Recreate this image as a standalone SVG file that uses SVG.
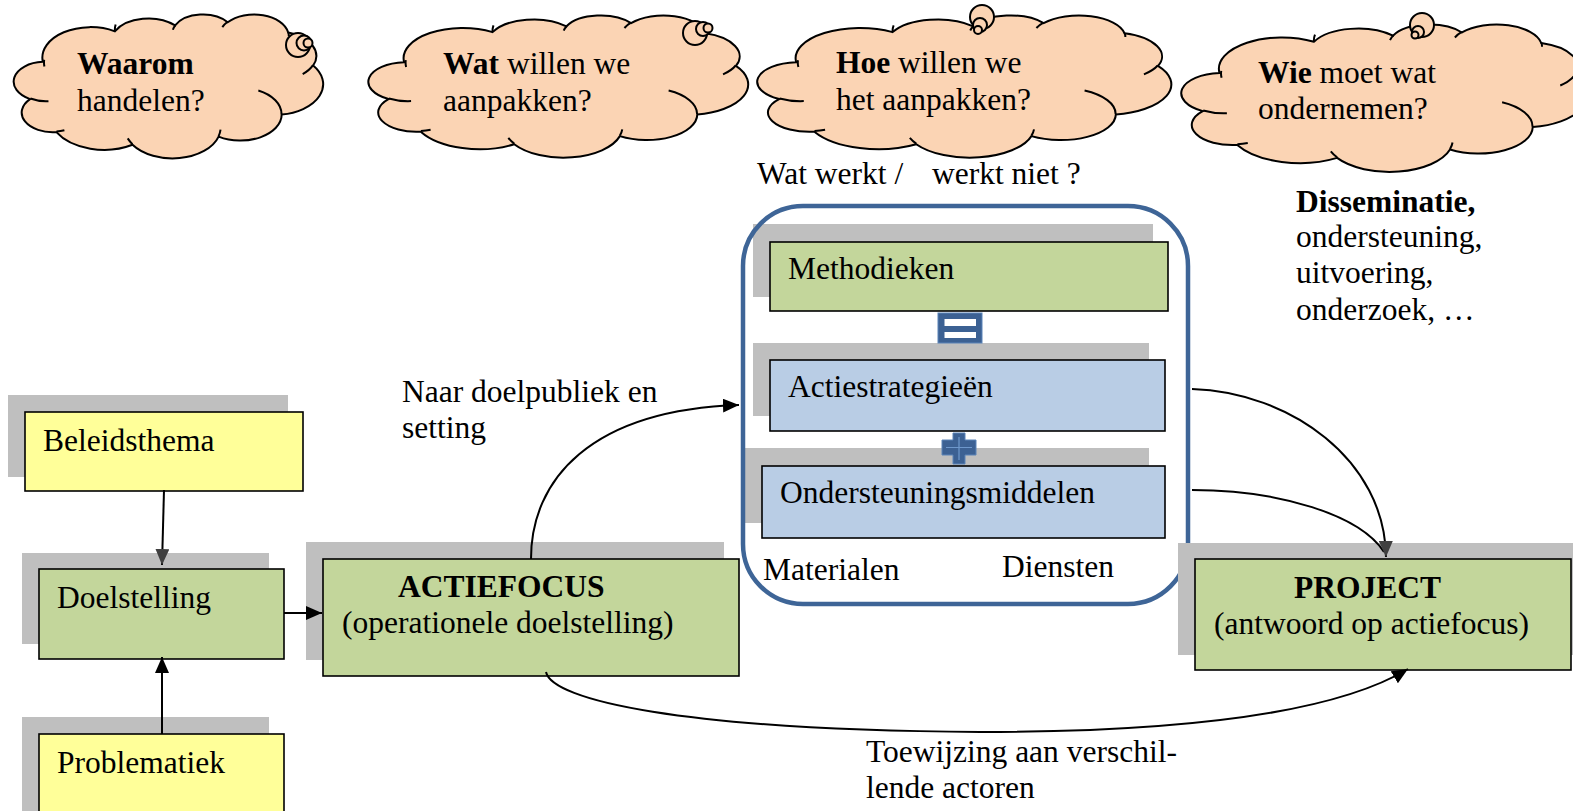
<svg xmlns="http://www.w3.org/2000/svg" xmlns:xlink="http://www.w3.org/1999/xlink" width="1573" height="811" viewBox="0 0 1573 811">
<style>
text{font-family:"Liberation Serif","Times New Roman",serif;font-size:31.5px;fill:#000}
.b{font-weight:bold}
.shadow{fill:#BFBFBF}
.yellow{fill:#FFFF99;stroke:#000;stroke-width:1.6}
.green{fill:#C3D69B;stroke:#000;stroke-width:1.6}
.blue{fill:#B9CDE5;stroke:#000;stroke-width:1.6}
.cloud{fill:#FBD4B4;stroke:#000;stroke-width:2}
.cloudline{fill:none;stroke:#000;stroke-width:2}
.conn{fill:none;stroke:#000;stroke-width:2}
.sym{fill:#3C6193;stroke:#5B84B8;stroke-width:1}
</style>
<defs>
<path id="cloudShape" vector-effect="non-scaling-stroke" d="M39,143.7 A67.53,91.9 0 0 1 140.05,52.02 A53.33,72.67 0 0 1 224.57,34.35 A43.65,59.45 0 0 1 298.34,24.84 A48.57,65.95 0 0 1 383.19,55.8 A53.33,72.73 0 0 1 418.19,154.64 A67.75,92.2 0 0 1 374.05,302.07 A57.85,78.67 0 0 1 285.57,368.18 A67.52,92.15 0 0 1 164.83,392.71 A77.2,105.43 0 0 1 58.06,354.75 A43.6,59.18 0 0 1 21.16,255.52 A43.45,59.45 0 0 1 39,143.7 Z"/>
<path id="cloudInner" vector-effect="non-scaling-stroke" d="M46.93,261.77 A43.45,59.45 0 0 1 21.6,253.8 M69.28,348.99 A43.6,59.18 0 0 1 58.19,352.81 M164.78,390.9 A67.52,92.15 0 0 1 158.09,373.49 M288.27,347.51 A67.52,92.15 0 0 1 285.6,366.6 M341.29,229.54 A57.85,78.67 0 0 1 373.81,300.9 M417.98,153.54 A53.33,72.73 0 0 1 403.48,180.33 M383.24,54.26 A48.57,65.95 0 0 1 384,66.9 M290.78,39.52 A48.57,65.95 0 0 1 298.2,23.39 M221.41,47.2 A43.65,59.45 0 0 1 225,33.3 M140,51.92 A67.53,91.9 0 0 1 141.14,31.36 M41.27,157.89 A67.53,91.9 0 0 1 40.91,137.38"/>
<marker id="arrowBlack" viewBox="0 0 16 14" refX="16" refY="7" markerWidth="16" markerHeight="14" markerUnits="userSpaceOnUse" orient="auto">
<path d="M0,0 L16,7 L0,14 Z" fill="#000"/>
</marker>
<marker id="arrowGray" viewBox="0 0 16 14" refX="16" refY="7" markerWidth="16" markerHeight="14" markerUnits="userSpaceOnUse" orient="auto">
<path d="M0,0 L16,7 L0,14 Z" fill="#404040"/>
</marker>
</defs>
<rect x="0" y="0" width="1573" height="811" fill="#FFFFFF"/>

<g id="cloud-waarom">
<use xlink:href="#cloudShape" class="cloud" transform="translate(15,14) scale(0.713,0.333)"/>
<use xlink:href="#cloudInner" class="cloudline" transform="translate(15,14) scale(0.713,0.333)"/>
<circle cx="298" cy="45" r="12" class="cloud"/>
<circle cx="304" cy="43" r="7.5" class="cloud"/>
<circle cx="308" cy="43" r="4.5" class="cloud"/>
<text x="77" y="74"><tspan class="b">Waarom</tspan></text>
<text x="77" y="111">handelen?</text>
</g>

<g id="cloud-wat">
<use xlink:href="#cloudShape" class="cloud" transform="translate(370,15) scale(0.875,0.329)"/>
<use xlink:href="#cloudInner" class="cloudline" transform="translate(370,15) scale(0.875,0.329)"/>
<circle cx="695" cy="33" r="12" class="cloud"/>
<circle cx="703" cy="29" r="7" class="cloud"/>
<circle cx="708" cy="28" r="4.5" class="cloud"/>
<text x="443" y="74"><tspan class="b">Wat</tspan> willen we</text>
<text x="443" y="111">aanpakken?</text>
</g>

<g id="cloud-hoe">
<use xlink:href="#cloudShape" class="cloud" transform="translate(759,15) scale(0.954,0.329)"/>
<use xlink:href="#cloudInner" class="cloudline" transform="translate(759,15) scale(0.954,0.329)"/>
<circle cx="982" cy="17" r="12" class="cloud"/>
<circle cx="980" cy="25" r="7" class="cloud"/>
<circle cx="978" cy="30" r="4" class="cloud"/>
<text x="836" y="73"><tspan class="b">Hoe</tspan> willen we</text>
<text x="836" y="110">het aanpakken?</text>
</g>

<g id="cloud-wie">
<use xlink:href="#cloudShape" class="cloud" transform="translate(1183,24) scale(0.935,0.341)"/>
<use xlink:href="#cloudInner" class="cloudline" transform="translate(1183,24) scale(0.935,0.341)"/>
<circle cx="1422" cy="25" r="12" class="cloud"/>
<circle cx="1418" cy="32" r="6" class="cloud"/>
<circle cx="1415" cy="35" r="3.5" class="cloud"/>
<text x="1258" y="83"><tspan class="b">Wie</tspan> moet wat</text>
<text x="1258" y="119">ondernemen?</text>
</g>

<g id="label-watwerkt">
<text x="757" y="184">Wat werkt /<tspan x="932">werkt niet ?</tspan></text>
</g>

<g id="label-disseminatie">
<text x="1296" y="212" class="b">Disseminatie,</text>
<text x="1296" y="247">ondersteuning,</text>
<text x="1296" y="283">uitvoering,</text>
<text x="1296" y="320">onderzoek, …</text>
</g>

<g id="beleidsthema">
<rect x="8" y="395" width="280" height="82" class="shadow"/>
<rect x="25" y="412" width="278" height="79" class="yellow"/>
<text x="43" y="451">Beleidsthema</text>
</g>

<g id="doelstelling">
<rect x="22" y="553" width="247" height="91" class="shadow"/>
<rect x="39" y="569" width="245" height="90" class="green"/>
<text x="57" y="608">Doelstelling</text>
</g>

<g id="problematiek">
<rect x="22" y="717" width="247" height="100" class="shadow"/>
<rect x="39" y="734" width="245" height="90" class="yellow"/>
<text x="57" y="773">Problematiek</text>
</g>

<g id="actiefocus">
<rect x="306" y="542" width="418" height="118" class="shadow"/>
<rect x="323" y="559" width="416" height="117" class="green"/>
<text x="398" y="597" class="b">ACTIEFOCUS</text>
<text x="342" y="633">(operationele doelstelling)</text>
</g>

<g id="methodieken">
<rect x="753" y="224" width="400" height="73" class="shadow"/>
<rect x="770" y="242" width="398" height="69" class="green"/>
<text x="788" y="279">Methodieken</text>
</g>

<g id="actiestrategieen">
<rect x="753" y="343" width="396" height="73" class="shadow"/>
<rect x="770" y="360" width="395" height="71" class="blue"/>
<text x="788" y="397">Actiestrategieën</text>
</g>

<g id="ondersteuningsmiddelen">
<rect x="745" y="448" width="404" height="75" class="shadow"/>
<rect x="762" y="466" width="403" height="72" class="blue"/>
<text x="780" y="503">Ondersteuningsmiddelen</text>
</g>

<g id="equals">
<rect x="938" y="313" width="44" height="30" class="sym"/>
<rect x="944.5" y="319" width="31.5" height="7" fill="#FFFFFF"/>
<rect x="944.5" y="332" width="31.5" height="6" fill="#FFFFFF"/>
</g>

<g id="plus">
<path d="M953,433 H965 V440 H976 V455 H965 V464 H953 V455 H942 V440 H953 Z" class="sym"/>
<path d="M959,437 V460 M946,447.5 H972" stroke="#6E98CC" stroke-width="1.2" fill="none"/>
</g>

<g id="container">
<rect x="743" y="206" width="445" height="398" rx="60" ry="60" fill="none" stroke="#3E6597" stroke-width="4.5"/>
<text x="763" y="580">Materialen</text>
<text x="1002" y="577">Diensten</text>
</g>

<g id="project">
<rect x="1178" y="543" width="400" height="112" class="shadow"/>
<rect x="1195" y="559" width="376" height="111" class="green"/>
<text x="1294" y="598" class="b">PROJECT</text>
<text x="1214" y="634">(antwoord op actiefocus)</text>
</g>

<g id="label-naar">
<text x="402" y="402">Naar doelpubliek en</text>
<text x="402" y="438">setting</text>
</g>

<g id="label-toewijzing">
<text x="866" y="762">Toewijzing aan verschil-</text>
<text x="866" y="798">lende actoren</text>
</g>

<g id="connectors">
<path d="M164,490 L162,565" class="conn" marker-end="url(#arrowGray)"/>
<path d="M162,734 L162,657" class="conn" marker-end="url(#arrowBlack)"/>
<path d="M284,613 L322,613" class="conn" marker-end="url(#arrowBlack)"/>
<path d="M531,559 C531,480 590,410 739,405" class="conn" marker-end="url(#arrowBlack)"/>
<path d="M1192,490 C1280,490 1360,515 1384,552" class="conn"/>
<path d="M1192,389 C1290,392 1385,460 1386,557" class="conn" marker-end="url(#arrowGray)"/>
<path d="M546,672 C552,700 680,730 980,732 C1200,732 1340,710 1408,669" class="conn" marker-end="url(#arrowBlack)"/>
</g>
</svg>
